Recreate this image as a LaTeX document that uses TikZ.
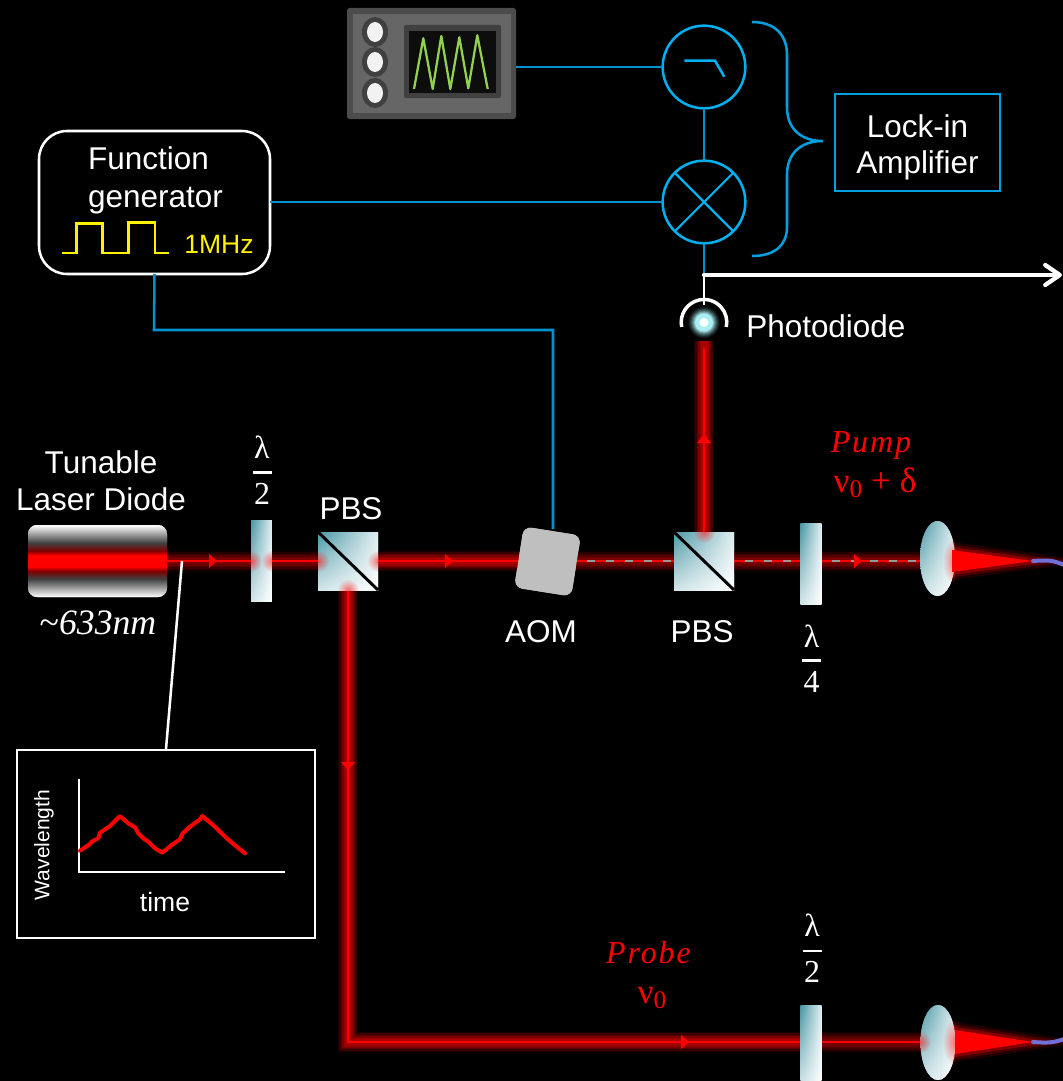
\documentclass[tikz,border=0pt]{standalone}
\usepackage{fontspec}
\setmainfont{Liberation Sans}
\newfontfamily\serifm{Liberation Serif}
\newfontfamily\serifs[LetterSpace=6]{Liberation Serif}
\usetikzlibrary{shapes.geometric,fadings,arrows.meta,shadings}
\definecolor{cblue}{HTML}{00B0F0}
\definecolor{wblue}{HTML}{0091D0}
\definecolor{boxblue}{HTML}{00A0E0}
\definecolor{teal0}{HTML}{4A98A6}
\definecolor{haze}{HTML}{A8EEF2}
\definecolor{fibercol}{HTML}{7070D8}
\pgfdeclareverticalshading{laserv}{100bp}{color(0bp)=(white);color(25bp)=(white);color(37.5bp)=(black!75);color(43bp)=(red!50!black);color(46bp)=(red);color(54bp)=(red);color(57bp)=(red!50!black);color(62.5bp)=(black!75);color(75bp)=(white);color(100bp)=(white)}
\tikzfading[name=spotfade,inner color=transparent!35,outer color=transparent!100]
\newcommand{\spot}[3]{\begin{scope}\clip (#2) rectangle (#3);\fill[red!85!white,path fading=spotfade] (#1) circle (11);\end{scope}}
\newcommand{\longspot}[3]{\begin{scope}\clip (#2) rectangle (#3);\fill[red!85!white,path fading=spotfade] (#1) ellipse [x radius=12,y radius=24];\end{scope}}
\newcommand{\arR}[2]{\fill[red] (#1-4,#2-7) -- (#1+4,#2) -- (#1-4,#2+7) -- cycle;}
\newcommand{\arD}[2]{\fill[red] (#1-7,#2-4) -- (#1,#2+4) -- (#1+7,#2-4) -- cycle;}
\newcommand{\arU}[2]{\fill[red] (#1-7,#2+4) -- (#1,#2-5) -- (#1+7,#2+4) -- cycle;}
\tikzset{
 x=0.75pt,y=-0.75pt,
 sans31/.style={font=\fontsize{23.6pt}{28pt}\selectfont,text=white,inner sep=0pt,anchor=base},
 sans26/.style={font=\fontsize{19.9pt}{24pt}\selectfont,text=white,inner sep=0pt,anchor=base},
 mathw/.style={font=\fontsize{24pt}{28pt}\serifm,text=white,inner sep=0pt,anchor=base},
 mathr/.style={font=\fontsize{26.5pt}{30pt}\serifm,text=red,inner sep=0pt,anchor=base},
 fracbar/.style={white,line width=1.9pt},
 glow/.style={line join=round,
  preaction={draw={rgb,255:red,16;green,0;blue,0},line width=15.75pt},
  preaction={draw={rgb,255:red,36;green,0;blue,0},line width=13.5pt},
  preaction={draw={rgb,255:red,60;green,0;blue,0},line width=11.25pt},
  preaction={draw={rgb,255:red,84;green,0;blue,0},line width=9pt},
  preaction={draw={rgb,255:red,104;green,0;blue,0},line width=6.75pt},
  preaction={draw={rgb,255:red,120;green,0;blue,0},line width=4.5pt}},
 hotglow/.style={line join=round,
  preaction={draw={rgb,255:red,24;green,0;blue,0},line width=15pt},
  preaction={draw={rgb,255:red,56;green,0;blue,0},line width=13pt},
  preaction={draw={rgb,255:red,90;green,0;blue,0},line width=11pt},
  preaction={draw={rgb,255:red,120;green,0;blue,0},line width=9pt},
  preaction={draw={rgb,255:red,150;green,0;blue,0},line width=6.75pt},
  preaction={draw={rgb,255:red,170;green,0;blue,0},line width=4.5pt}},
 core/.style={draw=red,line width=2.2pt},
 dashcore/.style={draw=black!40,line width=1.5pt,postaction={draw=red,line width=2.2pt,dash pattern=on 8.2pt off 6pt}},
 optic/.style={upper left=teal0,upper right=teal0!18!white,lower left=teal0!25!white,lower right=white,inner sep=0pt,outer sep=0pt},
 waveplate/.style={optic,rectangle,shade,minimum width=15.4pt,minimum height=60.75pt},
 cube/.style={optic,rectangle,shade,minimum width=45pt,minimum height=43.5pt},
 lens/.style={optic,ellipse,shade,minimum width=26.25pt,minimum height=56.25pt},
 aomblock/.style={fill=black!25,rounded corners=6pt,rotate=-9,minimum width=43.3pt,minimum height=46.2pt,inner sep=0pt,outer sep=0pt},
 laserbody/.style={inner sep=0pt,minimum width=104.25pt,minimum height=54pt,outer sep=0pt,rounded corners=6.75pt,shading=laserv},
 sigwire/.style={draw=wblue,line width=1.9pt},
 ring/.style={circle,draw=cblue,line width=1.9pt,minimum size=62pt,inner sep=0pt,outer sep=0pt},
 glyph/.style={draw=cblue,line width=1.9pt},
 whitewire/.style={draw=white,line width=1.9pt},
 fiber/.style={draw=fibercol,line width=3pt,line cap=round},
 coneglow/.style={line join=round,
  preaction={draw={rgb,255:red,30;green,0;blue,0},line width=12pt,fill=none},
  preaction={draw={rgb,255:red,70;green,0;blue,0},line width=8pt},
  preaction={draw={rgb,255:red,130;green,0;blue,0},line width=4.5pt}},
}
\begin{document}
\begin{tikzpicture}
\useasboundingbox (0,0) rectangle (1063,1081);
\fill[black] (0,0) rectangle (1063,1081);
\clip (0,0) rectangle (1063,1081);

% beam levels
\coordinate (top) at (0,561);
\coordinate (bot) at (0,1042);

% oscilloscope
\node[fill=black!70,rounded corners=2pt,minimum width=126.75pt,minimum height=83.25pt,inner sep=0pt,outer sep=0pt] (scope) at (431.5,63.5) {};
\fill[black!60] (353,14) rectangle (511,113);
\fill[black!75,rounded corners=1.5pt] (404,25) rectangle (501,98);
\fill[black!95] (409,31) rectangle (496,93);
\foreach \yy in {32,62,93}{
 \fill[black!75] (375,\yy) ellipse [x radius=13,y radius=15];
 \fill[black!5] (375,\yy) ellipse [x radius=8,y radius=10];
}
\draw[draw={rgb,255:red,146;green,208;blue,80},line width=1.7pt,line join=round]
 (414,89)--(423.3,38.3)--(432.7,89)--(441.3,36)--(450.3,89)--(459.3,37.3)--(468.3,88.3)--(477.3,35.3)--(487.7,89);

% lock-in chain
\node[ring] (lpf) at (704,67) {};
\node[ring] (mix) at (704,202) {};
\draw[glyph] (684.3,60.7) -- (715,60.7) -- (724.3,76.7);
\draw[glyph,line width=1.6pt] (mix.45) -- (mix.225) (mix.135) -- (mix.315);
\draw[sigwire] (scope.east |- lpf.west) -- (lpf.west);
\draw[sigwire] (lpf.south) -- (mix.north);

\node[draw=boxblue,line width=1.9pt,minimum width=123.75pt,minimum height=72.75pt,inner sep=0pt,outer sep=0pt] (lock) at (917.5,142.5) {};
\node[sans31] (lock1) at (917.5,137) {Lock-in};
\node[sans31] (lock2) at (917.5,173) {Amplifier};
\draw[draw=boxblue,line width=1.9pt] (752,22) .. controls (775,22) and (787,35) .. (787,55) -- (787,107) .. controls (787,128) and (800,141) .. (823,141) .. controls (800,141) and (787,154) .. (787,175) -- (787,227) .. controls (787,245) and (775,256) .. (752,256);

% function generator
\node[draw=white,line width=1.9pt,rounded corners=21pt,minimum width=173.25pt,minimum height=107.25pt,inner sep=0pt,outer sep=0pt] (fgen) at (154.5,202.5) {};
\node[sans31] (fg1) at (148.5,169) {Function};
\node[sans31] (fg2) at (155.5,207) {generator};
\draw[yellow,line width=1.9pt] (62,253)--(76.7,253)--(76.7,223.5)--(102.7,223.5)--(102.7,253)--(128.3,253)--(128.3,222.5)--(155,222.5)--(155,253)--(169,253);
\node[sans26,text=yellow] (fg3) at (219,253) {1MHz};
\draw[sigwire] (fgen.east |- mix.west) -- (mix.west);

% photodiode
\coordinate (pdc) at (704,322.5);
\foreach \rr/\cc in {16/6,15/14,14/24,13/36,12/50,11/66,10/82,9/100}{
 \fill[haze!\cc!black] (pdc) circle (\rr);
}
\fill[white] (pdc) circle (4.5);
\draw[white,line width=2.6pt] (681.7,327) arc[start angle=192,end angle=-12,x radius=22.8,y radius=-22.8];
\coordinate (pdtop) at (704,305);
\coordinate (junction) at (704,275);
\coordinate (outend) at (1062,275);
\draw[sigwire] (mix.south) -- (junction);
\draw[whitewire] (pdtop) -- (junction);
\draw[white,line width=3.2pt,line cap=round,-{Straight Barb[round,length=11pt,width=15pt,line width=3.2pt]}] (junction) -- (outend);
\node[sans31,anchor=base west] (pdl) at (746,337) {Photodiode};

% optics positions
\node[waveplate] (wp1) at (261.5,560.5) {};
\node[cube] (pbs1) at (348,561) {};
\node[aomblock] (aom) at (547.5,561.5) {};
\node[cube] (pbs2) at (704,561) {};
\node[waveplate] (wp4) at (811,563.5) {};
\node[lens] (lens1) at (937.5,558.5) {};
\node[waveplate] (wp2) at (811,1045.5) {};
\node[lens] (lens2) at (938,1042.5) {};
\coordinate (corner) at (pbs1.south |- bot);
\node[laserbody] (laser) at (97.5,561) {};

% signal wire to AOM
\draw[sigwire] (fgen.south) -- (154,330) -- (553,330) -- (553,529);

% beams
\path[core,glow] (laser.east |- top) -- (wp1.west |- top);
\path[core,glow] (wp1.east |- top) -- (pbs1.west |- top);
\path[core,hotglow] (pbs1.east |- top) -- (aom.west |- top);
\path[dashcore,glow] (aom.east |- top) -- (pbs2.west |- top);
\path[dashcore,glow] (pbs2.east |- top) -- (wp4.west |- top);
\path[dashcore,glow] (wp4.east |- top) -- (lens1.west |- top);
\path[hotglow] (pbs2.north) -- (704,341);
\draw[core] (pbs2.north) -- (704,348);
\path[core,hotglow] (pbs1.south) -- (corner) -- (wp2.west |- bot);
\path[core,glow] (wp2.east |- bot) -- (lens2.west |- bot);

% focused cones and fibers
\coordinate (tip1) at (1033,561);
\coordinate (tip2) at (1033,1042);
\coordinate (fib1) at (1064,565);
\coordinate (fib2) at (1064,1039);
\path[coneglow] (952,550) -- (tip1) -- (952,572) -- cycle;
\path[coneglow] (955,1030) -- (tip2) -- (955,1054) -- cycle;

% redraw optics above glow
\node[waveplate] at (wp1) {};
\node[cube] at (pbs1) {};
\node[cube] at (pbs2) {};
\node[waveplate] at (wp4) {};
\node[lens] at (lens1) {};
\node[waveplate] at (wp2) {};
\node[lens] at (lens2) {};
\node[aomblock] at (aom) {};
\node[laserbody] at (laser) {};
\draw[black,line width=2.2pt] (pbs1.north west) -- (pbs1.south east);
\draw[black,line width=2.2pt] (pbs2.north west) -- (pbs2.south east);

% spots
\spot{251,561}{251,520}{272,601}
\spot{272,561}{251,520}{272,601}
\spot{318,561}{318,532}{378,590}
\spot{378,561}{318,532}{378,590}
\spot{348,590}{318,532}{378,590}
\spot{704,532}{674,532}{734,590}
\longspot{955,561}{935,520}{955,600}
\spot{920,1042}{920,1000}{950,1081}
\longspot{955,1042}{930,1000}{955,1081}

\draw[fiber] (tip1) .. controls (1047,560) and (1053,560) .. (fib1);
\draw[fiber] (tip2) .. controls (1047,1043) and (1053,1043) .. (fib2);
\fill[red] (952,550) -- (tip1) -- (952,572) -- cycle;
\fill[red] (955,1030) -- (tip2) -- (955,1054) -- cycle;

% arrows
\arR{213}{561}
\arR{449}{561}
\arR{858}{561}
\arD{348}{766}
\arU{704}{439}
\arR{685}{1042}

% labels
\node[sans31] (tl1) at (101,473) {Tunable};
\node[sans31] (tl2) at (101,510) {Laser Diode};
\node[mathw,font=\fontsize{26.8pt}{30pt}\serifm\itshape] (wl) at (98,634) {{\upshape\char"7E}633nm};
\node[sans31] (pl1) at (351,519) {PBS};
\node[sans31] (al) at (541,642) {AOM};
\node[sans31] (pl2) at (702,642) {PBS};

\node[mathw] (h1) at (262,458) {λ};
\node[mathw] (h1b) at (262,504) {2};
\draw[fracbar] (253,472.7) -- (272,472.7);
\node[mathw] (q1) at (811.5,647) {λ};
\node[mathw] (q1b) at (811.5,692) {4};
\draw[fracbar] (802,660.7) -- (821,660.7);
\node[mathw] (h2) at (812,936) {λ};
\node[mathw] (h2b) at (812,982) {2};
\draw[fracbar] (803,951) -- (822,951);

\node[mathr,font=\fontsize{24pt}{28pt}\serifs\itshape] (pump) at (871,452) {Pump};
\node[mathr] (pumpf) at (875,492) {ν\raisebox{-4pt}{\fontsize{19pt}{20pt}\selectfont 0} + δ};
\node[mathr,font=\fontsize{24pt}{28pt}\serifs\itshape] (probe) at (648.5,963) {Probe};
\node[mathr] (probef) at (652,1003) {ν\raisebox{-4pt}{\fontsize{19pt}{20pt}\selectfont 0}};

% wavelength inset
\node[draw=white,line width=1.9pt,minimum width=223.5pt,minimum height=141pt,inner sep=0pt,outer sep=0pt] (inset) at (166,844) {};
\coordinate (tap) at (182,561);
\draw[whitewire] (tap) -- (166,749);
\draw[white,line width=1.5pt] (79,779) -- (79,871.5) -- (285,871.5);
\draw[red,line width=3pt,line join=round,line cap=round] (80,850.7)--(90,844)--(91.7,841.7)--(98.3,838.3)--(100,832.7)--(110,826)--(120,816)--(128.3,823.3)--(135,827.3)--(138.3,833.3)--(143.3,838.3)--(148.3,841.7)--(155,848.3)--(162.3,852.7)--(171.7,845)--(180,839.3)--(182.7,833.3)--(189.3,827.3)--(200,819.3)--(202.3,816)--(215,826.7)--(220,831.7)--(226.7,838.3)--(236.7,846.7)--(245,853.3);
\node[font=\fontsize{15.8pt}{18pt}\selectfont,text=white,rotate=90,inner sep=0pt] (yl) at (44,845) {Wavelength};
\node[sans26] (xl) at (165,911) {time};
\end{tikzpicture}
\end{document}
